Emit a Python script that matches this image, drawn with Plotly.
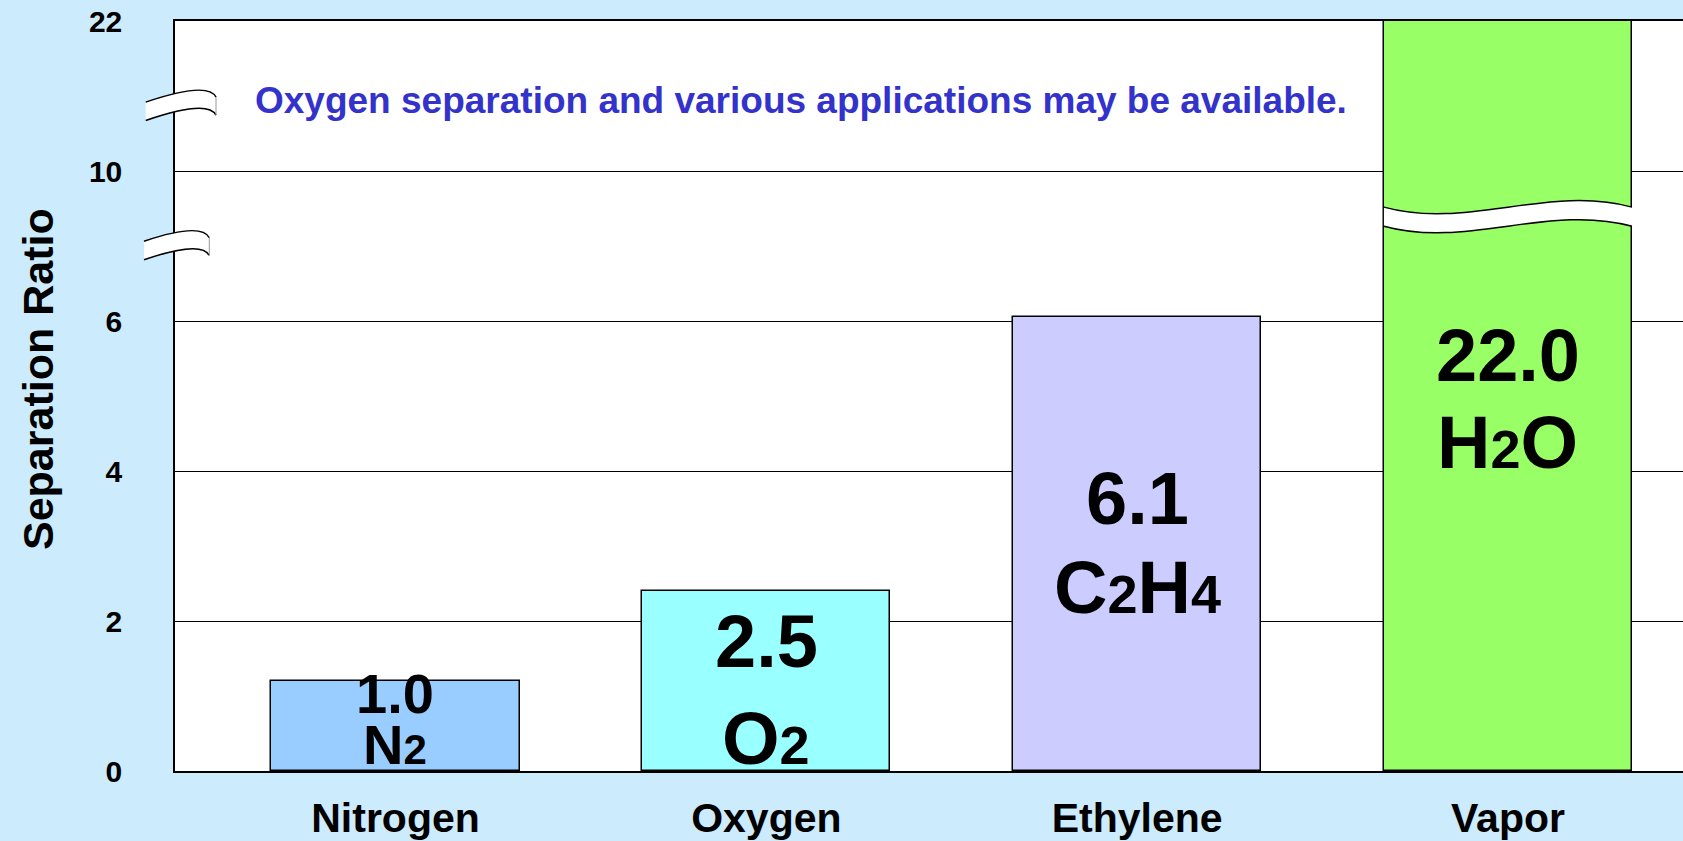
import numpy as np
import plotly.graph_objects as go

# ---------------- data ----------------
categories = ["Nitrogen", "Oxygen", "Ethylene", "Vapor"]
bar_heights = [1.2, 2.4, 6.1, 22.0]          # drawn bar heights
ratio_labels = ["1.0", "2.5", "6.1", "22.0"]  # printed ratio values
formulas = [
    [("N", False), ("2", True)],
    [("O", False), ("2", True)],
    [("C", False), ("2", True), ("H", False), ("4", True)],
    [("H", False), ("2", True), ("O", False)],
]
tick_values = [0, 2, 4, 6, 10, 22]
tick_labels = ["0", "2", "4", "6", "10", "22"]
bar_colors = ["#99ccff", "#99ffff", "#ccccff", "#99ff66"]
note_text = "Oxygen separation and various applications may be available."
y_title = "Separation Ratio"

# ---------------- styling ----------------
BG = "#ccebfd"
FONT = "Liberation Sans, Arial, sans-serif"
W, H = 1683, 841
ML, MR, MT, MB = 175, 0, 21, 70
BAR_W = 0.669
X_RANGE = [-0.5946, 3.472]

# broken axis scale: each tick step is one equal visual unit
tick_pos = list(range(len(tick_values)))


def scale(v):
    return float(np.interp(v, tick_values, tick_pos))


bar_vis = [scale(v) for v in bar_heights]

# label styling (positions in visual units, sizes in px)
value_y = [0.52, 0.863, 1.817, 2.77]
formula_y = [0.18, 0.217, 1.223, 2.19]
main_size = [56, 74, 74, 74]
sub_size = [42, 54, 54, 54]


def formula_html(parts, sub_px):
    out = ""
    for txt, is_sub in parts:
        if is_sub:
            out += f"<span style='font-size:{sub_px}px'>{txt}</span>"
        else:
            out += txt
    return out


fig = go.Figure()
fig.add_trace(go.Bar(
    x=categories,
    y=bar_vis,
    width=BAR_W,
    marker=dict(color=bar_colors, line=dict(color="black", width=1.5)),
    hoverinfo="skip",
    showlegend=False,
))

annotations = []
for i, cat in enumerate(categories):
    annotations.append(dict(
        x=i, y=value_y[i], xref="x", yref="y", text=ratio_labels[i],
        showarrow=False, xanchor="center", yanchor="middle",
        font=dict(family=FONT, size=main_size[i], color="black", weight="bold"),
    ))
    annotations.append(dict(
        x=i, y=formula_y[i], xref="x", yref="y",
        text=formula_html(formulas[i], sub_size[i]),
        showarrow=False, xanchor="center", yanchor="middle",
        font=dict(family=FONT, size=main_size[i], color="black", weight="bold"),
    ))

# note text
annotations.append(dict(
    x=(801 - ML) / (W - ML - MR), y=4.47, xref="paper", yref="y", text=note_text,
    showarrow=False, xanchor="center", yanchor="middle",
    font=dict(family=FONT, size=37, color="#3333cc", weight="bold"),
))
# y title
annotations.append(dict(
    x=(37.5 - ML) / (W - ML - MR), y=2.61, xref="paper", yref="y", text=y_title,
    showarrow=False, textangle=-90, xanchor="center", yanchor="middle",
    font=dict(family=FONT, size=43, color="black", weight="bold"),
))

shapes = []

# wavy break across the vapor bar
vi = categories.index("Vapor")
x0, x1 = vi - BAR_W / 2, vi + BAR_W / 2
a = 3.759
k = 0.152
th = 0.127
dx = x1 - x0


def wave(y0, reverse=False):
    if not reverse:
        return (f"M {x0},{y0} C {x0 + dx/3},{y0 - k} {x0 + 2*dx/3},{y0 + k} {x1},{y0}")
    return (f"L {x1},{y0} C {x0 + 2*dx/3},{y0 + k} {x0 + dx/3},{y0 - k} {x0},{y0}")


fill_path = wave(a) + " " + wave(a - th, reverse=True) + " Z"
shapes.append(dict(type="path", xref="x", yref="y", path=fill_path,
                   fillcolor="white", line=dict(width=0), layer="above"))
shapes.append(dict(type="path", xref="x", yref="y", path=wave(a),
                   line=dict(color="black", width=1.5), layer="above"))
shapes.append(dict(type="path", xref="x", yref="y", path=wave(a - th),
                   line=dict(color="black", width=1.5), layer="above"))


# axis break marks on the left axis (paper x, visual-unit y)
def px(p):
    return (p - ML) / (W - ML - MR)


def axis_break(xl, xr, top, bot):
    xc = px(xr - 8)
    top_p = f"M {px(xl)},{top[0]} Q {xc},{top[1]} {px(xr)},{top[2]}"
    bot_p = f"M {px(xl)},{bot[0]} Q {xc},{bot[1]} {px(xr)},{bot[2]}"
    fill = (f"M {px(xl)},{top[0]} Q {xc},{top[1]} {px(xr)},{top[2]} "
            f"L {px(xr)},{bot[2]} Q {xc},{bot[1]} {px(xl)},{bot[0]} Z")
    return [
        dict(type="path", xref="paper", yref="y", path=fill, fillcolor="white",
             line=dict(width=0), layer="above"),
        dict(type="path", xref="paper", yref="y", path=top_p,
             line=dict(color="black", width=1.5), layer="above"),
        dict(type="path", xref="paper", yref="y", path=bot_p,
             line=dict(color="black", width=1.5), layer="above"),
        dict(type="line", xref="paper", yref="y", x0=px(xr), x1=px(xr), y0=top[2], y1=bot[2],
             line=dict(color="#999999", width=1), layer="above"),
    ]


shapes += axis_break(145.7, 216, (4.459, 4.60, 4.492), (4.337, 4.48, 4.372))
shapes += axis_break(144, 209.3, (3.532, 3.66, 3.555), (3.408, 3.54, 3.437))

fig.update_layout(
    width=W, height=H,
    margin=dict(l=ML, r=MR, t=MT, b=MB, pad=0),
    paper_bgcolor=BG, plot_bgcolor="white",
    bargap=0,
    annotations=annotations,
    shapes=shapes,
    font=dict(family=FONT, color="black"),
)
fig.update_xaxes(
    range=X_RANGE, showgrid=False, zeroline=False,
    showline=True, linecolor="black", linewidth=1.5, mirror=True,
    ticks="", ticklabelstandoff=10,
    tickfont=dict(family=FONT, size=41, color="black", weight="bold"),
)
fig.update_yaxes(
    range=[0, tick_pos[-1]], tickmode="array", tickvals=tick_pos, ticktext=tick_labels,
    showgrid=True, gridcolor="black", gridwidth=1, zeroline=False,
    showline=True, linecolor="black", linewidth=1.5, mirror=False,
    ticks="", ticklabelstandoff=45,
    tickfont=dict(family=FONT, size=30, color="black", weight="bold"),
)

fig.write_html(
    "out.html",
    config={"displayModeBar": False},
    post_script="document.body.style.margin='0';document.body.style.overflow='hidden';",
)
